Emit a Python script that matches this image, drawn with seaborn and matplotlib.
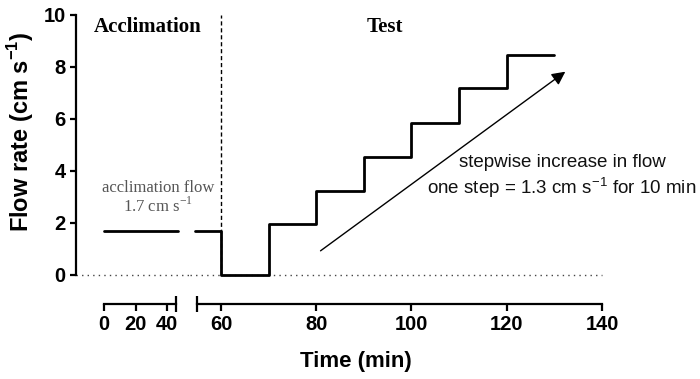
import matplotlib
matplotlib.use('Agg')
import matplotlib.pyplot as plt
import seaborn as sns

# acclimation period (left, compressed part of the x axis)
acc_time = [0, 47]
acc_flow = [1.7, 1.7]

# test period: flow switched off at 60 min, then stepwise increase
test_time = [54.5, 60, 70, 80, 90, 100, 110, 120, 130]
test_flow = [1.7, 0, 1.95, 3.25, 4.55, 5.85, 7.2, 8.45, 8.45]

left_ticks = [0, 20, 40]
right_ticks = [60, 80, 100, 120, 140]
y_ticks = [0, 2, 4, 6, 8, 10]

sns.set_style('ticks')
plt.rcParams['font.family'] = ['Liberation Sans', 'DejaVu Sans']
plt.rcParams['font.weight'] = 'bold'
plt.rcParams['text.color'] = 'black'
plt.rcParams['xtick.color'] = 'black'
plt.rcParams['ytick.color'] = 'black'
plt.rcParams['axes.edgecolor'] = 'black'

W, H = 700, 379
fig = plt.figure(figsize=(7, 3.79), dpi=100)

# pixel layout
ylo, yhi = -0.4, 10.3
y0_px, ppu = 275, 26.0
bot_px = y0_px - ylo * ppu
top_px = y0_px - yhi * ppu
b = (H - bot_px) / H
h = (bot_px - top_px) / H

axL = fig.add_axes([76 / W, b, 114 / W, h])
axR = fig.add_axes([190 / W, b, 500 / W, h])

axL.set_xlim((76 - 104.3) / 1.56, (190 - 104.3) / 1.56)
axR.set_xlim(60 - 31 / 4.7625, 60 + 469 / 4.7625)
for ax in (axL, axR):
    ax.set_ylim(ylo, yhi)
    ax.patch.set_alpha(0)

off = (304 - bot_px) * 0.72

# lines
sns.lineplot(x=acc_time, y=acc_flow, ax=axL, color='black', lw=2,
             estimator=None, sort=False)
sns.lineplot(x=test_time, y=test_flow, ax=axR, color='black', lw=2,
             drawstyle='steps-post', estimator=None, sort=False, zorder=3)

dot = (0, (1, 3))
axL.axhline(0, color='#444444', lw=1, ls=dot)
axR.hlines(0, axR.get_xlim()[0], 140, color='#444444', lw=1, linestyles=dot)
axR.vlines(60, 0, 10, color='black', lw=1, linestyles=(0, (3, 2)))

# spines
for ax in (axL, axR):
    ax.spines['top'].set_visible(False)
    ax.spines['right'].set_visible(False)
    ax.spines['bottom'].set_position(('outward', off))
    ax.spines['bottom'].set_linewidth(1.6)
    ax.spines['left'].set_linewidth(1.6)
axL.spines['left'].set_bounds(0, 10)
axL.spines['bottom'].set_bounds(0, 46)
axR.spines['left'].set_visible(False)
axR.spines['bottom'].set_bounds(55, 140)

axL.set_yticks(y_ticks)
axL.set_yticklabels([str(v) for v in y_ticks])
axR.set_yticks([])
axL.set_xticks(left_ticks)
axL.set_xticklabels([str(v) for v in left_ticks])
axR.set_xticks(right_ticks)
axR.set_xticklabels([str(v) for v in right_ticks])
axL.set_xticks([46], minor=True)
axR.set_xticks([55], minor=True)

for ax in (axL, axR):
    ax.tick_params(axis='x', which='major', length=5, width=1.6, pad=3,
                   labelsize=14.5, color='black', labelcolor='black')
    ax.tick_params(axis='x', which='minor', direction='inout', length=11,
                   width=1.6, color='black')
axL.tick_params(axis='y', length=4.3, width=1.6, pad=3, labelsize=14.5,
                color='black', labelcolor='black')
for lab in axL.get_xticklabels() + axR.get_xticklabels() + axL.get_yticklabels():
    lab.set_fontweight('bold')

# axis titles
fig.text(21 / W, 1 - 132 / H, 'Flow rate (cm s$^{\\mathregular{-1}}$)',
         rotation=90, ha='center', va='center', fontsize=17, fontweight='bold')
fig.text(356 / W, 1 - 362 / H, 'Time (min)', ha='center', va='center',
         fontsize=16, fontweight='bold')

# phase labels
serif = ['Liberation Serif', 'DejaVu Serif']
axL.text((148 - 104.3) / 1.56, 9.35, 'Acclimation', family=serif,
         fontweight='bold', fontsize=15, ha='center', va='baseline',
         clip_on=False)
axR.text(94.4, 9.35, 'Test', family=serif, fontweight='bold', fontsize=15,
         ha='center', va='baseline')

axL.text((158 - 104.3) / 1.56, 3.19, 'acclimation flow', family=serif,
         fontweight='normal', fontsize=12, color='#555555', ha='center',
         va='baseline', clip_on=False)
axL.text((158 - 104.3) / 1.56, 2.42, '1.7 cm s$^{\\mathregular{-1}}$',
         family=serif, fontweight='normal', fontsize=12, color='#555555',
         ha='center', va='baseline', clip_on=False)

axR.text(131.6, 4.15, 'stepwise increase in flow', fontweight='normal',
         fontsize=13.5, color='#111111', ha='center', va='baseline')
axR.text(131.6, 3.12, 'one step = 1.3 cm s$^{\\mathregular{-1}}$ for 10 min',
         fontweight='normal', fontsize=13.5, color='#111111', ha='center',
         va='baseline')

axR.annotate('', xy=(132.3, 7.82), xytext=(80.9, 0.93),
             arrowprops=dict(arrowstyle='-|>', color='black', lw=1,
                             mutation_scale=20, shrinkA=0, shrinkB=0))

fig.savefig('out.png', dpi=100)
